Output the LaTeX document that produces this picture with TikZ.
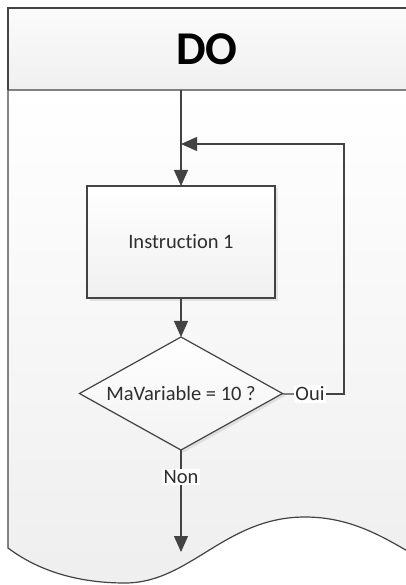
\documentclass[tikz,border=0pt]{standalone}
\usepackage{fontspec}
\setmainfont{Carlito}[Ligatures=NoCommon, RawFeature={-liga;-calt;-dlig}]
\usepackage{xcolor}
\usetikzlibrary{arrows.meta,positioning,calc,shapes.geometric,shadows}
\definecolor{linegray}{HTML}{434343}
\definecolor{textgray}{HTML}{2E2E2E}
\tikzset{
  frame/.style={draw=linegray, line width=1.2pt},
  header/.style={top color=gray!3, bottom color=gray!12, minimum width=398pt, minimum height=82pt,
                 inner sep=0pt, outer sep=0pt, font=\fontsize{47}{50}\selectfont\bfseries, text=black},
  procbox/.style={draw=linegray, line width=1.2pt, top color=white, bottom color=gray!12,
                  minimum width=188pt, minimum height=112pt, outer sep=0pt, text=textgray,
                  font=\fontsize{20.5}{24}\selectfont,
                  drop shadow={shadow xshift=2.5pt, shadow yshift=-2.5pt, opacity=0.18}},
  test/.style={diamond, draw=linegray, line width=1.2pt, top color=white, bottom color=gray!10,
               shape aspect=1.8, minimum width=203pt, minimum height=113pt, inner sep=0pt,
               outer sep=0pt, text=textgray, font=\fontsize{20.5}{24}\selectfont,
               drop shadow={shadow xshift=2.5pt, shadow yshift=-2.5pt, opacity=0.18}},
  lbl/.style={fill=white, inner sep=1.5pt, text=textgray, font=\fontsize{20.5}{24}\selectfont},
  link/.style={draw=linegray, line width=1.2pt},
  flow/.style={link, -{Triangle[length=16pt, width=14pt]}},
}
\begin{document}
\begin{tikzpicture}[x=1pt, y=1pt]
\useasboundingbox (0,0) rectangle (406,-585);
\clip (0,0) rectangle (406,-585);
% header band
\node[header] (hdr) at (207,-49) {DO};
\draw[frame] ($(hdr.north east)+(10,0)$) -- (hdr.north west) -- (hdr.south west);
% body with wavy bottom
\path[frame, top color=white, bottom color=gray!13]
  ($(hdr.south east)+(10,0)$) -- (hdr.south west) -- (8,-548)
  .. controls (40,-572) and (80,-583) .. (125,-583)
  .. controls (190,-583) and (225,-517) .. (305,-517)
  .. controls (352,-517) and (385,-538) .. (416,-556);
% flow
\node[procbox] (instr) at (181,-242) {Instruction 1};
\node[test, below=39pt of instr] (test) {MaVariable = 10 ?};
\node[lbl] (oui) at (310,-394) {Oui};
\node[lbl] (non) at (181,-477) {Non};
\coordinate (loopc) at (344,-394);
\coordinate (join) at (181,-144);
\coordinate (exit) at (181,-552);
\draw[flow] (hdr.south -| instr.north) -- (instr);
\draw[flow] (instr) -- (test);
\draw[link] (test) -- (oui);
\draw[flow] (oui) -- (loopc) |- (join);
\draw[link] (test) -- (non);
\draw[flow] (non) -- (exit);
\end{tikzpicture}
\end{document}
